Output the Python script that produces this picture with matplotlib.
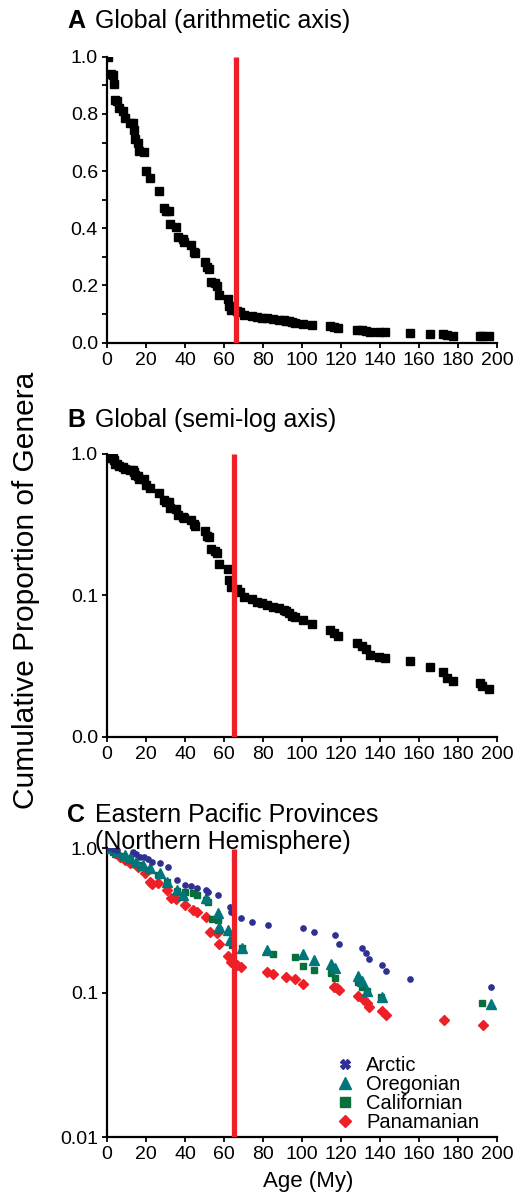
import matplotlib
matplotlib.use("Agg")
import matplotlib.pyplot as plt
from matplotlib.lines import Line2D
from matplotlib.ticker import FixedLocator, NullFormatter

plt.rcParams['font.family'] = ['Liberation Sans', 'DejaVu Sans']

# ---------------- data ----------------
global_age = [0.5, 2, 3, 3.6, 4.1, 5, 6.3, 8.3, 9.2, 11.8, 13.2, 14.1, 14.5, 15.7, 16.2,
              18.8, 20.1, 22.2, 26.5, 29.1, 30.4, 31.6, 32.5, 35.6, 36.2, 39, 39.7, 43.1,
              44.5, 45.3, 50.4, 51.3, 52.1, 53.3, 55.6, 56.4, 57.3, 61.8, 62.8, 63.8, 66.5,
              68.2, 70.3, 74.4, 77, 79.5, 82.1, 85.2, 88.2, 90.8, 92, 93.3, 95, 96.4,
              100.3, 105, 114.3, 116.4, 118.6, 128, 130.6, 132.8, 134.9, 139.6, 142.6,
              155.4, 165.6, 172.1, 174.2, 177.3, 191.3, 192.1, 196.1]
global_prop = [1.0, 0.94, 0.935, 0.905, 0.849, 0.846, 0.82, 0.811, 0.784, 0.769, 0.767, 0.744,
               0.711, 0.697, 0.67, 0.668, 0.60, 0.575, 0.531, 0.47, 0.459, 0.459, 0.415,
               0.406, 0.371, 0.361, 0.353, 0.342, 0.318, 0.312, 0.283, 0.264, 0.257, 0.213,
               0.207, 0.198, 0.167, 0.154, 0.128, 0.115, 0.11, 0.106, 0.098, 0.094, 0.090,
               0.088, 0.085, 0.083, 0.081, 0.079, 0.077, 0.0745, 0.072, 0.0706, 0.0668,
               0.0623, 0.0568, 0.0544, 0.0515, 0.0457, 0.0438, 0.0415, 0.0378, 0.0368,
               0.0358, 0.0344, 0.0313, 0.0288, 0.0259, 0.0247, 0.0238, 0.0228, 0.0217]

arctic_age = [0, 3, 5, 13.5, 15, 17, 19, 21, 23, 27, 31.5, 36, 40, 43, 46, 51, 52, 57, 63,
              63.5, 68.5, 74.5, 82.5, 100.5, 106, 117, 119, 131, 133, 134.5, 141, 143,
              155.5, 197]
arctic_prop = [1.0, 0.99, 0.975, 0.95, 0.915, 0.875, 0.866, 0.84, 0.81, 0.795, 0.738, 0.605,
               0.56, 0.545, 0.528, 0.514, 0.5, 0.475, 0.394, 0.364, 0.328, 0.311, 0.295,
               0.282, 0.265, 0.25, 0.218, 0.203, 0.188, 0.172, 0.156, 0.141, 0.125, 0.11]

oregon_age = [1.5, 5, 9, 12, 15, 18.5, 22, 27, 31, 36, 39, 51, 57, 57.5, 62, 63, 69, 82,
              100.5, 106, 115, 117, 128.5, 131, 133.5, 141, 197]
oregon_prop = [1.0, 0.95, 0.9, 0.86, 0.808, 0.766, 0.727, 0.671, 0.588, 0.515, 0.475, 0.45,
               0.356, 0.283, 0.272, 0.232, 0.203, 0.197, 0.186, 0.169, 0.159, 0.148, 0.13,
               0.121, 0.103, 0.094, 0.084]

calif_age = [3, 8, 12, 17, 21, 26, 30.6, 36, 40, 44.3, 46, 51, 52, 54, 57, 57.6, 64, 69,
             85, 96.5, 100.5, 106, 115, 117, 128.5, 131, 133.5, 140.5, 192.5]
calif_prop = [0.95, 0.88, 0.84, 0.766, 0.708, 0.65, 0.588, 0.51, 0.5, 0.488, 0.475, 0.44,
              0.425, 0.325, 0.32, 0.272, 0.214, 0.205, 0.185, 0.178, 0.153, 0.144, 0.136,
              0.127, 0.118, 0.11, 0.103, 0.094, 0.085]

panam_age = [0.7, 4, 6.7, 9, 11.8, 16, 19.5, 22, 22.9, 26.3, 30.9, 32.6, 35.4, 40, 44.3, 46,
             50.8, 53, 56.2, 57.4, 61.9, 63.5, 66.5, 68.5, 82, 85, 92, 96.4, 100.7, 116.4,
             117.9, 119.1, 128.6, 131.1, 133.5, 134.5, 140.9, 143.1, 172.8, 192.7]
panam_prop = [1.0, 0.93, 0.875, 0.83, 0.787, 0.746, 0.671, 0.588, 0.57, 0.573, 0.515, 0.45,
              0.445, 0.405, 0.376, 0.364, 0.333, 0.265, 0.258, 0.219, 0.179, 0.164, 0.156,
              0.15, 0.14, 0.134, 0.129, 0.124, 0.114, 0.11, 0.107, 0.104, 0.095, 0.09,
              0.085, 0.08, 0.075, 0.07, 0.065, 0.06]

kpg_age_a = 66
kpg_age = 65

xticks = [0, 20, 40, 60, 80, 100, 120, 140, 160, 180, 200]
a_yticks = [0.0, 0.2, 0.4, 0.6, 0.8, 1.0]
a_ylabels = ["0.0", "0.2", "0.4", "0.6", "0.8", "1.0"]
b_yticks = [0.01, 0.1, 1.0]
b_ylabels = ["0.0", "0.1", "1.0"]
c_yticks = [0.01, 0.1, 1.0]
c_ylabels = ["0.01", "0.1", "1.0"]

# ---------------- style ----------------
RED = "#ED2027"
NAVY = "#2E3192"
TEAL = "#00767A"
GREEN = "#0A6E3C"
TICK_FS = 14
TITLE_FS = 18

W, H = 531, 1204
fig = plt.figure(figsize=(W / 100, H / 100), dpi=100)


def add_axes(top_px, bottom_px):
    left, right = 107, 497
    return fig.add_axes([left / W, (H - bottom_px) / H, (right - left) / W,
                         (bottom_px - top_px) / H])


def style(ax):
    for s in ("top", "right"):
        ax.spines[s].set_visible(False)
    for s in ("left", "bottom"):
        ax.spines[s].set_linewidth(1.6)
    ax.tick_params(axis="both", which="both", direction="out", length=3.5, width=1.3,
                   labelsize=TICK_FS, pad=3)
    ax.set_xlim(0, 200)
    ax.set_xticks(xticks)
    ax.set_xticklabels([str(t) for t in xticks])


# Panel A
axA = add_axes(56.7, 342.7)
style(axA)
axA.plot(global_age, global_prop, linestyle="none", marker="s", ms=5.6,
         color="black", zorder=3)
axA.plot([kpg_age_a, kpg_age_a], [0, 1.0], color=RED, lw=3.8, zorder=4,
         solid_capstyle="butt")
axA.set_ylim(0, 1.0)
axA.set_yticks(a_yticks)
axA.set_yticklabels(a_ylabels)
axA.yaxis.set_minor_locator(FixedLocator([0.1, 0.3, 0.5, 0.7, 0.9]))
axA.yaxis.set_minor_formatter(NullFormatter())

# Panel B
axB = add_axes(454, 736.7)
style(axB)
axB.set_yscale("log")
axB.plot(global_age, global_prop, linestyle="none", marker="s", ms=5.6,
         color="black", zorder=3)
axB.plot([kpg_age, kpg_age], [0.01, 1.0], color=RED, lw=3.8, zorder=4,
         solid_capstyle="butt")
axB.set_ylim(0.01, 1.0)
axB.yaxis.set_minor_locator(FixedLocator([]))
axB.set_yticks(b_yticks)
axB.set_yticklabels(b_ylabels)

# Panel C
axC = add_axes(848.3, 1137.1)
style(axC)
axC.set_yscale("log")
axC.plot(panam_age, panam_prop, linestyle="none", marker="D", ms=4.6, color=RED,
         zorder=3)
axC.plot(calif_age, calif_prop, linestyle="none", marker="s", ms=4.8, color=GREEN,
         zorder=3)
axC.plot(oregon_age, oregon_prop, linestyle="none", marker="^", ms=6.5, color=TEAL,
         zorder=3)
axC.plot(arctic_age, arctic_prop, linestyle="none", marker="o", ms=3.8, color=NAVY,
         zorder=3)
axC.plot([kpg_age, kpg_age], [0.01, 0.985], color=RED, lw=3.8, zorder=4,
         solid_capstyle="butt")
axC.set_ylim(0.01, 1.0)
axC.yaxis.set_minor_locator(FixedLocator([]))
axC.set_yticks(c_yticks)
axC.set_yticklabels(c_ylabels)

handles = [
    Line2D([], [], linestyle="none", marker="X", ms=6.5, color=NAVY, label="Arctic"),
    Line2D([], [], linestyle="none", marker="^", ms=8, color=TEAL, label="Oregonian"),
    Line2D([], [], linestyle="none", marker="s", ms=6.5, color=GREEN, label="Californian"),
    Line2D([], [], linestyle="none", marker="D", ms=6, color=RED, label="Panamanian"),
]
axC.legend(handles=handles, loc="lower right", bbox_to_anchor=(0.99, -0.03),
           frameon=False, fontsize=14.5, handletextpad=0.55, labelspacing=0.0,
           borderpad=0.2, handlelength=1.0)

# Titles and labels
fig.text(67 / W, 1 - 21 / H, "A", fontsize=TITLE_FS, fontweight="bold", va="center",
         ha="left")
fig.text(95 / W, 1 - 21 / H, "Global (arithmetic axis)", fontsize=TITLE_FS, va="center",
         ha="left")
fig.text(67 / W, 1 - 420 / H, "B", fontsize=TITLE_FS, fontweight="bold", va="center",
         ha="left")
fig.text(95 / W, 1 - 420 / H, "Global (semi-log axis)", fontsize=TITLE_FS, va="center",
         ha="left")
fig.text(67 / W, 1 - 815 / H, "C", fontsize=TITLE_FS, fontweight="bold", va="center",
         ha="left")
fig.text(95 / W, 1 - 815 / H, "Eastern Pacific Provinces", fontsize=TITLE_FS,
         va="center", ha="left")
fig.text(95 / W, 1 - 842 / H, "(Northern Hemisphere)", fontsize=TITLE_FS, va="center",
         ha="left")
fig.text(26 / W, 1 - 590 / H, "Cumulative Proportion of Genera", fontsize=21.5,
         rotation=90, va="center", ha="center")
fig.text(308 / W, 1 - 1182 / H, "Age (My)", fontsize=16, va="center", ha="center")

fig.savefig("out.png", dpi=100)
